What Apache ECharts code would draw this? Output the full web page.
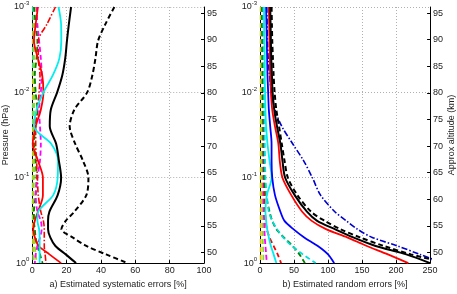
<!DOCTYPE html>
<html>
<head>
<meta charset="utf-8">
<script src="https://cdn.jsdelivr.net/npm/echarts@6/dist/echarts.min.js"></script>
<style>
  html, body { margin: 0; padding: 0; background: #fff; }
  #main { width: 457px; height: 294px; }
</style>
</head>
<body>
<div id="main"></div>
<script>
// pressure levels (hPa), log spaced, top to bottom
var pres = [0.001, 0.0016, 0.0025, 0.004, 0.0063, 0.01, 0.016, 0.025, 0.04, 0.063,
            0.1, 0.16, 0.25, 0.32, 0.4, 0.5, 0.63, 0.79, 1];
var altTicks = [50, 55, 60, 65, 70, 75, 80, 85, 90, 95];

// a) systematic errors [%]
var sysBlackDash  = [47.8, 42.5, 38.3, 36.8, 35, 32, 24.5, 21.8, 25, 29.5, 32.7, 31.5, 24.5, 19.5, 17, 23.5, 31.5, 43, 55.5];
var sysBlack      = [22.6, 21.3, 20.2, 19.2, 17.5, 14.5, 10.8, 10.2, 13.9, 15.5, 16.8, 14.8, 10, 9.2, 9.2, 10.5, 13.5, 19.5, 25.5];
var sysCyan       = [15.3, 16.8, 16.9, 15.8, 12, 6.5, 2.5, 1, 11, 15, 14.8, 12.2, 3.5, 3, 4, 4.3, 4.3, 4.3, 4.3];
var sysRed        = [3.3, 2, 1, 3.3, 5.8, 6.5, 5, 2, 0.3, 3.3, 6.2, 6.2, 3.3, 1.5, 0.6, 1.5, 3.8, 10, 16.8];
var sysRedDash    = [13.5, 8.5, 3.5, 3.5, 4.5, 4, 3, 2, 2, 2.5, 3, 3.5, 5, 6.5, 7, 7, 7, 7.5, 8];
var sysMagDash    = [2.5, 3, 4, 5, 5.5, 5, 4, 4.5, 5, 4.5, 3, 2, 3, 5, 5.5, 4.5, 3, 2, 1.5];
var sysGreenDash  = [1, 2, 3, 2.5, 1.5, 2, 3, 2, 1, 2, 2.5, 2, 1, 1, 1.5, 2, 3, 4.5, 6];
var sysLimeDash   = [0.8, 1.5, 1.2, 0.8, 1.2, 1.5, 1, 0.8, 1.2, 1.5, 1, 0.8, 0.6, 0.8, 1, 1.2, 1.5, 2, 2.5];
var sysYellowDash = [1.5, 0.8, 0.5, 1, 0.6, 0.5, 0.8, 0.5, 0.4, 0.6, 0.5, 0.4, 0.3, 0.4, 0.5, 0.5, 0.6, 0.8, 1];
var sysCyanDash   = [0.3, 0.5, 0.3, 0.4, 0.3, 0.5, 0.3, 0.4, 0.3, 0.4, 0.3, 0.3, 0.3, 0.3, 0.4, 0.4, 0.5, 0.5, 0.6];

// b) random errors [%]
var rndBlackDash  = [17, 17.5, 18, 19, 20, 21.5, 24, 28, 32, 36, 41, 55, 75, 95, 118, 147, 182, 222, 275];
var rndBlack      = [15, 15.5, 16, 16.5, 17.5, 18.5, 21, 25, 30, 33, 37, 51, 69, 84, 110, 137, 170, 215, 250];
var rndRed        = [13, 13.5, 14, 14.5, 15, 16, 18, 22, 27, 29, 33, 46, 62, 76, 97, 128, 157, 188, 218];
var rndBlueDD     = [10, 10.5, 11, 12, 14, 17, 22, 32, 48, 64, 77, 89, 110, 127, 143, 165, 202, 235, 270];
var rndBlue       = [9, 9.5, 10, 10.5, 11, 12, 13, 15, 17, 17, 18, 22, 30, 36, 49, 65, 85, 100, 109];
var rndCyan       = [6, 6, 6.5, 7, 7, 7.5, 8, 9, 11, 14, 17, 10, 8, 9, 10.5, 13, 16, 20, 24];
var rndCyanDash   = [5, 5, 5.5, 5.5, 6, 6, 6.5, 7, 7, 7.5, 8, 10, 13, 18, 25, 34, 47, 63, 82];
var rndGreenDash  = [3, 3, 3.5, 3.5, 4, 4, 4.5, 5, 5, 5.5, 6, 9, 14, 18, 24, 35, 48, 58, 66];
var rndRedDash    = [4, 4, 4.5, 4.5, 5, 5, 5, 5.5, 5.5, 6, 6, 6.5, 7.5, 8.5, 10, 14, 20, 26, 31];
var rndMagDash    = [3.5, 3.5, 3.5, 4, 4, 4, 4, 4.5, 4.5, 4.5, 5, 5, 5.5, 6, 6.5, 7, 8, 9, 10];
var rndLimeDash   = [2, 2, 2, 2, 2.5, 2.5, 2.5, 2.5, 3, 3, 3, 3, 3.5, 3.5, 4, 4, 4.5, 5, 5];
var rndYellowDash = [1, 1, 1, 1, 1, 1, 1, 1, 1, 1, 1, 1, 1, 1, 1, 1, 1, 1, 1];

var FONT = 'Liberation Sans';
var dash = [5, 3];
var dashDot = [6, 2, 1.5, 2];

function pair(vals) {
  return vals.map(function (v, i) { return [v, pres[i]]; });
}

function line(vals, panel, color, width, type) {
  return {
    type: 'line',
    xAxisIndex: panel,
    yAxisIndex: panel * 2,
    data: pair(vals),
    showSymbol: false,
    smooth: 0.3,
    silent: true,
    lineStyle: { color: color, width: width, type: type || 'solid' }
  };
}

function powLabel(v) {
  var e = Math.round(Math.log(v) / Math.LN10);
  return '{b|10}{s|' + e + '}';
}

var gridLine = { show: true, lineStyle: { color: '#b0b0b0', type: [1, 2], width: 1 } };
var axisLine = { show: true, lineStyle: { color: '#000', width: 1 } };

function xAx(idx, max, interval, name) {
  return {
    gridIndex: idx, type: 'value', min: 0, max: max, interval: interval,
    position: 'bottom',
    axisLine: axisLine,
    axisTick: { show: true, inside: true, length: 3, lineStyle: { color: '#000' } },
    axisLabel: { color: '#222', fontFamily: FONT, fontSize: 9, margin: 3 },
    splitLine: gridLine,
    name: name, nameLocation: 'middle', nameGap: 13,
    nameTextStyle: { color: '#222', fontFamily: FONT, fontSize: 9 }
  };
}

function presAx(idx, name) {
  return {
    gridIndex: idx, type: 'log', logBase: 10, min: 0.001, max: 1, inverse: true,
    position: 'left',
    axisLine: axisLine,
    axisTick: { show: true, inside: true, length: 3, lineStyle: { color: '#000' } },
    axisLabel: {
      color: '#222', fontFamily: FONT, margin: 3,
      formatter: powLabel,
      rich: {
        b: { fontSize: 9, fontFamily: FONT, color: '#222' },
        s: { fontSize: 6, fontFamily: FONT, color: '#222', padding: [0, 0, 7, 0] }
      }
    },
    splitLine: gridLine,
    name: name, nameLocation: 'middle', nameGap: 20,
    nameTextStyle: { color: '#222', fontFamily: FONT, fontSize: 9 }
  };
}

function altAx(idx, name) {
  return {
    gridIndex: idx, type: 'value', min: 48.0, max: 96.15,
    position: 'right',
    axisLine: axisLine,
    axisTick: { show: true, inside: true, length: 3, lineStyle: { color: '#000' }, customValues: altTicks },
    axisLabel: { color: '#222', fontFamily: FONT, fontSize: 9, margin: 3, customValues: altTicks },
    splitLine: { show: false },
    name: name, nameLocation: 'middle', nameGap: 16,
    nameTextStyle: { color: '#222', fontFamily: FONT, fontSize: 9 }
  };
}

var series = [
  line(sysCyanDash, 0, '#00dddd', 1.8, dash),
  line(sysYellowDash, 0, '#e0c000', 1.8, dash),
  line(sysLimeDash, 0, '#88dd22', 1.8, dash),
  line(sysGreenDash, 0, '#008000', 1.8, dash),
  line(sysMagDash, 0, '#ff00ff', 1.8, dash),
  line(sysRedDash, 0, '#ff0000', 1.6, dashDot),
  line(sysRed, 0, '#ff0000', 1.8),
  line(sysCyan, 0, '#00eeee', 1.8),
  line(sysBlack, 0, '#000000', 2),
  line(sysBlackDash, 0, '#000000', 2, dash),

  line(rndYellowDash, 1, '#e0c000', 1.8, dash),
  line(rndLimeDash, 1, '#88dd22', 1.8, dash),
  line(rndMagDash, 1, '#ff00ff', 1.8, dash),
  line(rndRedDash, 1, '#ff0000', 1.8, dash),
  line(rndGreenDash, 1, '#008000', 1.8, dash),
  line(rndCyanDash, 1, '#00dddd', 1.8, dash),
  line(rndCyan, 1, '#00eeee', 1.8),
  line(rndBlue, 1, '#0000ff', 1.8),
  line(rndBlueDD, 1, '#0000cc', 1.6, dashDot),
  line(rndRed, 1, '#ff0000', 1.8),
  line(rndBlack, 1, '#000000', 2),
  line(rndBlackDash, 1, '#000000', 2, dash)
];

var chart = echarts.init(document.getElementById('main'), null, { renderer: 'canvas' });
chart.setOption({
  animation: false,
  backgroundColor: '#fff',
  grid: [
    { left: 31, top: 7, width: 173, height: 262 },
    { left: 260, top: 7, width: 172, height: 262 }
  ],
  xAxis: [
    xAx(0, 100, 20, 'a) Estimated systematic errors [%]'),
    xAx(1, 250, 50, 'b) Estimated random errors [%]')
  ],
  yAxis: [
    presAx(0, 'Pressure (hPa)'),
    altAx(0, ''),
    presAx(1, ''),
    altAx(1, 'Approx altitude (km)')
  ],
  series: series
});
</script>
</body>
</html>
